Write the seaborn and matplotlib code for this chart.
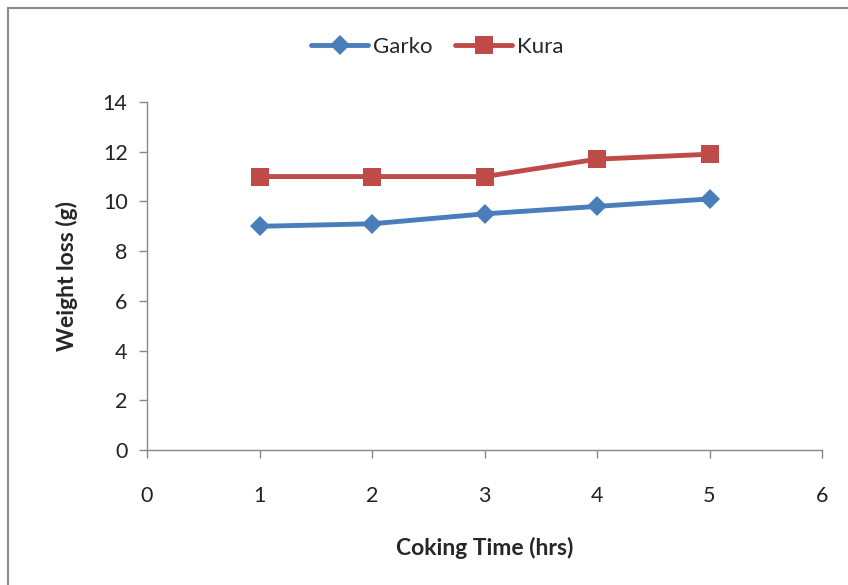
import matplotlib
matplotlib.use("Agg")
import matplotlib.pyplot as plt
import seaborn as sns
import pandas as pd
from matplotlib.patches import Rectangle

hours = [1, 2, 3, 4, 5]
garko = [9.0, 9.1, 9.5, 9.8, 10.1]
kura = [11.0, 11.0, 11.0, 11.7, 11.9]
series_names = ["Garko", "Kura"]
x_ticks = [0, 1, 2, 3, 4, 5, 6]
y_ticks = [0, 2, 4, 6, 8, 10, 12, 14]

df = pd.DataFrame({
    "hours": hours * 2,
    "loss": garko + kura,
    "site": ["Garko"] * len(hours) + ["Kura"] * len(hours),
})

sns.set_style("white")
plt.rcParams["font.family"] = ["Lato", "DejaVu Sans"]

fig = plt.figure(figsize=(8.48, 5.85), dpi=100)
ax = fig.add_axes([147 / 848, 1 - 450 / 585, (822 - 147) / 848, (450 - 102) / 585])

palette = {"Garko": "#4A7EBB", "Kura": "#BE4B48"}
markers = {"Garko": "D", "Kura": "s"}
sns.lineplot(data=df, x="hours", y="loss", hue="site", style="site",
             palette=palette, markers=markers, dashes=False, linewidth=3.5,
             markersize=13, markeredgewidth=0, ax=ax)
for line in ax.get_lines():
    if line.get_marker() == "D":
        line.set_markersize(10)

ax.set_xlim(0, 6)
ax.set_ylim(0, 14)
ax.set_xticks(x_ticks)
ax.set_yticks(y_ticks)
ax.tick_params(axis="both", labelsize=15.5, colors="#222222", length=6, width=1,
               direction="out", bottom=True, left=True)
ax.tick_params(axis="x", pad=20, color="#888888")
ax.tick_params(axis="y", pad=8, color="#888888")
for s in ["top", "right"]:
    ax.spines[s].set_visible(False)
for s in ["left", "bottom"]:
    ax.spines[s].set_color("#888888")
    ax.spines[s].set_linewidth(1)

ax.set_xlabel("Coking Time (hrs)", fontsize=16.5, fontweight="bold", labelpad=22)
ax.set_ylabel("Weight loss (g)", fontsize=16.5, fontweight="bold", labelpad=18)

handles, labels = ax.get_legend_handles_labels()
ax.legend(handles=handles, labels=labels, loc="center", bbox_to_anchor=(437 / 848, 1 - 47 / 585),
          bbox_transform=fig.transFigure, ncol=2, frameon=False, fontsize=16,
          handlelength=2.6, columnspacing=1.0, handletextpad=0.2)

fig.patches.append(Rectangle((8 / 848, -0.1), 1.0, 1.1 - 8 / 585, transform=fig.transFigure,
                             fill=False, edgecolor="#8a8a8a", linewidth=1.5))

fig.savefig("out.png", dpi=100)
